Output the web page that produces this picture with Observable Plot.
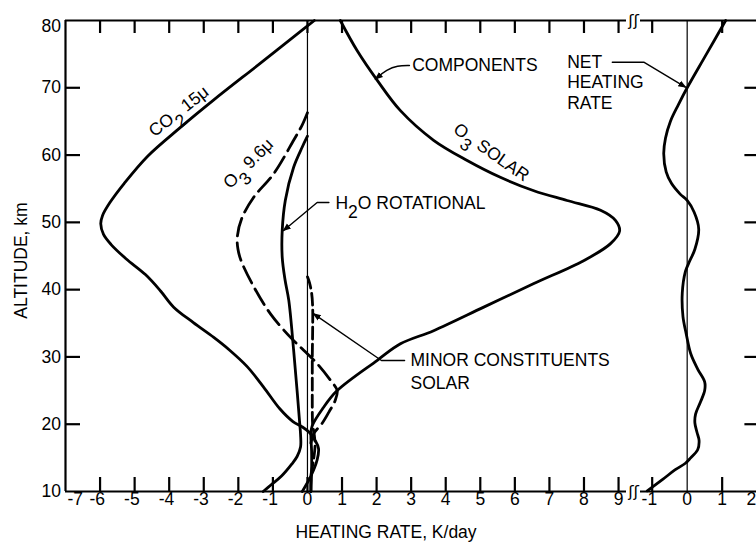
<!DOCTYPE html>
<html>
<head>
<meta charset="utf-8">
<script src="https://cdn.jsdelivr.net/npm/d3@7"></script>
<script src="https://cdn.jsdelivr.net/npm/@observablehq/plot@0.6"></script>
<style>
  html, body { margin: 0; padding: 0; background: #fff; overflow: hidden; }
  #chart { position: relative; width: 756px; height: 543px; overflow: hidden; background: #fff; }
  #chart svg { position: absolute; top: 0; }
</style>
</head>
<body>
<div id="chart"></div>
<script>
// ---------------- data ----------------
const altitudeTicks = [10, 20, 30, 40, 50, 60, 70];
const altitudeTop = [80];
const altitudeInnerTicks = [20, 30, 40, 50, 60, 70];
const leftRateTicksNeg = [-6, -5, -4, -3, -2, -1];
const leftRateTickFirst = [-7];
const leftRateTicksPos = [0, 1, 2, 3, 4, 5, 6, 7, 8, 9];
const rightRateTicksNeg = [-1];
const rightRateTicksPos = [0, 1];
const rightRateTickLast = [2];
const xTitle = "HEATING RATE, K/day";
const yTitle = "ALTITUDE, km";

// curves: [heating rate K/day, altitude km]
const co2_15 = [[0.2,80],[0,79.2],[-1.35,73.7],[-2.71,68.2],[-3.7,64],[-4.63,59.8],[-5.3,55.8],[-5.72,52.9],[-5.93,51],[-5.98,49.8],[-5.9,48.2],[-5.68,46.7],[-5.25,44.6],[-4.68,42.2],[-4.25,39.8],[-3.87,37.4],[-3.3,35.1],[-2.71,32.9],[-2.25,31],[-1.75,28.6],[-1.28,25.6],[-0.8,22.3],[-0.42,20.4],[-0.15,19.6],[0.05,18.8],[0.22,17.6],[0.32,16.4],[0.28,14.7],[0.09,12.2],[-0.15,10]];
const o3_96 = [[0,66.3],[-0.15,64.5],[-0.4,62.2],[-0.98,57.2],[-1.56,53.7],[-1.9,50.6],[-2.03,47.8],[-2.01,46],[-1.92,44.3],[-1.55,40.4],[-1.07,36.4],[-0.49,32.9],[-0.11,31],[0.28,29],[0.67,26.5],[0.86,25],[0.8,23.5],[0.62,21.8],[0.42,20.1],[0.18,18.6],[0.1,17.2]];
const h2oRot = [[0,62.8],[-0.15,61.2],[-0.4,58.2],[-0.64,53.3],[-0.73,48.8],[-0.73,44.8],[-0.65,41.5],[-0.54,38.4],[-0.4,31],[-0.3,25],[-0.23,20.5],[-0.2,18.5],[-0.2,16.6],[-0.3,15.2],[-0.45,14.1],[-0.75,12.3],[-1.05,11],[-1.28,10]];
const o3Solar = [[0.95,80],[1.44,75.5],[2.02,71.1],[2.69,66.6],[3.65,62.2],[4.62,59.2],[5.58,56.7],[6.55,54.7],[7.51,53.25],[8.48,51.8],[8.91,50.3],[9.03,48.7],[8.76,46.8],[7.99,44.3],[6.55,40.9],[5.1,37.4],[3.65,33.9],[2.69,31.95],[2.02,29.5],[0.86,25],[0.45,22.4],[0.14,19.8],[0.1,18.5],[0.12,16],[0.12,13],[0.1,10]];
const minorSolar = [[0,41.9],[0.06,41],[0.12,39.5],[0.15,37.5],[0.15,34],[0.14,30],[0.14,26],[0.14,22],[0.15,20],[0.2,18.3],[0.22,16.8],[0.17,14.5],[0.1,12.3],[0.1,10]];
const netHeating = [[1.1,80],[0.55,75],[0,70],[-0.25,67.5],[-0.48,65],[-0.62,62.5],[-0.67,60.2],[-0.6,57.5],[-0.45,55.8],[-0.2,54.2],[0,53.25],[0.2,51.5],[0.33,49],[0.22,46],[0.05,44],[-0.05,42.7],[-0.14,39.5],[-0.12,36],[-0.03,33.5],[0.1,30.5],[0.3,28.2],[0.5,26.3],[0.5,25],[0.38,23.3],[0.24,21.5],[0.22,20.2],[0.28,18.8],[0.34,17.6],[0.3,16.2],[0.1,15],[-0.05,14.2],[-0.35,13.2],[-0.7,11.8],[-1.14,10.1]];

// annotations (text and anchor points in data units)
const labelCO2 = [{text: "CO₂ 15μ", rate: -3.72, alt: 66.5}];
const labelO396 = [{text: "O₃ 9.6μ", rate: -1.71, alt: 58.75}];
const labelO3Solar = [{text: "O₃ SOLAR", rate: 5.32, alt: 60.4}];
const leftCallouts = [
  {text: "COMPONENTS", rate: 3.03, alt: 73.3},
  {text: "H₂O ROTATIONAL", rate: 0.81, alt: 52.8},
  {text: "MINOR CONSTITUENTS", rate: 2.98, alt: 29.47},
  {text: "SOLAR", rate: 2.98, alt: 26.05}
];
const netCallouts = [
  {text: "NET", rate: -3.43, alt: 73.8},
  {text: "HEATING", rate: -3.43, alt: 70.83},
  {text: "RATE", rate: -3.43, alt: 67.62}
];
const componentsLeader = [[2.95,73.31],[2.6,73.31],[2.3,72.7],[1.97,71.34]];
const h2oLeader = [[0.62,52.95],[0.28,52.95],[-0.69,48.8]];
const minorLeader = [[2.81,29.47],[2.14,29.47],[0.18,36.4]];
const netLeader = [[-2.14,73.8],[-1.24,73.8],[-0.05,70.1]];

// ---------------- layout ----------------
const H = 543, MT = 20, MB = 52, FH = H - MT - MB;
const altDomain = [10, 80];
const leftDomain = [-7, 9.23];
const rightDomain = [-1.334, 2.05];
const LP = {left: 0, width: 633, ml: 65, mr: 7};
const RP = {left: 553, width: 220, ml: 87, mr: 14.6};
const LFW = LP.width - LP.ml - LP.mr;
const RFW = RP.width - RP.ml - RP.mr;
const FONT = "'Liberation Sans', Arial, sans-serif";
const FS = 17.5;
const X = d => d[0], Y = d => d[1];
const curveW = 2.8;
// pixel -> data unit factors for inward tick lengths
const kyAlt = (altDomain[1] - altDomain[0]) / FH;
const kxL = (leftDomain[1] - leftDomain[0]) / LFW;
const kxR = (rightDomain[1] - rightDomain[0]) / RFW;
const TOP_TICK = 13, BOTTOM_TICK = 14, SIDE_TICK = 15;
const TICK_W = 2.2;

const negFmt = d => "-" + Math.abs(d);

function frameTicks(xTicks) {
  return [
    Plot.ruleX(xTicks, {x: d => d, y1: altDomain[1], y2: altDomain[1] - TOP_TICK * kyAlt, strokeWidth: TICK_W}),
    Plot.ruleX(xTicks, {x: d => d, y1: altDomain[0], y2: altDomain[0] + BOTTOM_TICK * kyAlt, strokeWidth: TICK_W})
  ];
}

const leftPlot = Plot.plot({
  width: LP.width, height: H,
  marginLeft: LP.ml, marginRight: LP.mr, marginTop: MT, marginBottom: MB,
  style: {fontFamily: FONT, fontSize: FS + "px", color: "black", background: "transparent", overflow: "visible"},
  x: {domain: leftDomain},
  y: {domain: altDomain},
  marks: [
    Plot.ruleX([leftDomain[0]], {y1: altDomain[0], y2: altDomain[1], strokeWidth: 2.2}),
    Plot.ruleY(altDomain, {x1: leftDomain[0], x2: leftDomain[1], strokeWidth: 2.2}),
    Plot.ruleX([0], {y1: altDomain[0], y2: altDomain[1], strokeWidth: 1.2}),
    Plot.ruleY(altitudeInnerTicks, {y: d => d, x1: leftDomain[0], x2: leftDomain[0] + SIDE_TICK * kxL, strokeWidth: TICK_W}),
    ...frameTicks([...leftRateTicksNeg, ...leftRateTicksPos]),
    Plot.axisY(altitudeTicks, {anchor: "left", tickSize: 0, tickPadding: 4.5, label: null, fontSize: FS}),
    Plot.axisY(altitudeTop, {anchor: "left", tickSize: 0, tickPadding: 4.5, label: null, fontSize: FS, dy: 6}),
    Plot.axisX(leftRateTicksNeg, {anchor: "bottom", tickSize: 0, tickPadding: 1, label: null, textAnchor: "end", dx: 5, tickFormat: negFmt, fontSize: FS}),
    Plot.axisX(leftRateTickFirst, {anchor: "bottom", tickSize: 0, tickPadding: 1, label: null, textAnchor: "end", dx: 17.5, tickFormat: negFmt, fontSize: FS}),
    Plot.axisX(leftRateTicksPos, {anchor: "bottom", tickSize: 0, tickPadding: 1, label: null, fontSize: FS}),
    Plot.text([xTitle], {text: d => d, frameAnchor: "bottom", textAnchor: "middle", lineAnchor: "middle", dx: 40, dy: 41, fontSize: FS}),
    Plot.text([yTitle], {text: d => d, frameAnchor: "left", textAnchor: "middle", lineAnchor: "middle", rotate: -90, dx: -44, dy: 4.5, fontSize: FS}),
    Plot.line(co2_15, {x: X, y: Y, strokeWidth: curveW, curve: "catmull-rom"}),
    Plot.line(h2oRot, {x: X, y: Y, strokeWidth: curveW, curve: "catmull-rom"}),
    Plot.line(o3Solar, {x: X, y: Y, strokeWidth: curveW, curve: "catmull-rom"}),
    Plot.line(o3_96, {x: X, y: Y, strokeWidth: curveW, strokeDasharray: "18,7", curve: "catmull-rom"}),
    Plot.line(minorSolar, {x: X, y: Y, strokeWidth: curveW, strokeDasharray: "12,5", curve: "catmull-rom"}),
    Plot.line(componentsLeader, {x: X, y: Y, strokeWidth: 1.4, curve: "basis", markerEnd: "arrow"}),
    Plot.line(h2oLeader, {x: X, y: Y, strokeWidth: 1.4, markerEnd: "arrow"}),
    Plot.line(minorLeader, {x: X, y: Y, strokeWidth: 1.4, markerEnd: "arrow"}),
    Plot.text(labelCO2, {x: "rate", y: "alt", text: "text", rotate: -38, fontSize: FS}),
    Plot.text(labelO396, {x: "rate", y: "alt", text: "text", rotate: -45, fontSize: FS}),
    Plot.text(labelO3Solar, {x: "rate", y: "alt", text: "text", rotate: 35, fontSize: FS}),
    Plot.text(leftCallouts, {x: "rate", y: "alt", text: "text", textAnchor: "start", fontSize: FS})
  ]
});

const rightPlot = Plot.plot({
  width: RP.width, height: H,
  marginLeft: RP.ml, marginRight: RP.mr, marginTop: MT, marginBottom: MB,
  style: {fontFamily: FONT, fontSize: FS + "px", color: "black", background: "transparent", overflow: "visible"},
  x: {domain: rightDomain},
  y: {domain: altDomain, axis: null},
  marks: [
    Plot.ruleX([rightDomain[1]], {y1: altDomain[0], y2: altDomain[1], strokeWidth: 2.2}),
    Plot.ruleY(altDomain, {x1: rightDomain[0], x2: rightDomain[1], strokeWidth: 2.2}),
    Plot.ruleX([0], {y1: altDomain[0], y2: altDomain[1], strokeWidth: 1.2}),
    Plot.ruleY(altitudeInnerTicks, {y: d => d, x1: rightDomain[1] - 14 * kxR, x2: rightDomain[1], strokeWidth: TICK_W}),
    ...frameTicks([...rightRateTicksNeg, 1, 2]),
    Plot.axisX(rightRateTicksNeg, {anchor: "bottom", tickSize: 0, tickPadding: 1, label: null, textAnchor: "end", dx: 5, tickFormat: negFmt, fontSize: FS}),
    Plot.axisX(rightRateTicksPos, {anchor: "bottom", tickSize: 0, tickPadding: 1, label: null, fontSize: FS}),
    Plot.axisX(rightRateTickLast, {anchor: "bottom", tickSize: 0, tickPadding: 1, label: null, textAnchor: "end", dx: -1, fontSize: FS}),
    Plot.text(["ʃʃ"], {text: d => d, frameAnchor: "top-left", textAnchor: "middle", lineAnchor: "middle", dx: -7, dy: 0, fontFamily: "'DejaVu Sans'", fontSize: 16}),
    Plot.text(["ʃʃ"], {text: d => d, frameAnchor: "bottom-left", textAnchor: "middle", lineAnchor: "middle", dx: -7, dy: 0, fontFamily: "'DejaVu Sans'", fontSize: 16}),
    Plot.line(netHeating, {x: X, y: Y, strokeWidth: curveW, curve: "catmull-rom"}),
    Plot.line(netLeader, {x: X, y: Y, strokeWidth: 1.4, markerEnd: "arrow"}),
    Plot.text(netCallouts, {x: "rate", y: "alt", text: "text", textAnchor: "start", fontSize: FS})
  ]
});

// subscripts: Unicode subscript digits become lowered full-size digits
function applySubscripts(svg) {
  svg.querySelectorAll("text").forEach(t => {
    const s = t.textContent;
    if (!/[\u2080-\u2089]/.test(s)) return;
    t.textContent = "";
    const re = /([\u2080-\u2089]+)|([^\u2080-\u2089]+)/g;
    let m, lowered = false;
    while ((m = re.exec(s))) {
      const ts = document.createElementNS("http://www.w3.org/2000/svg", "tspan");
      if (m[1]) {
        ts.textContent = m[1].replace(/[\u2080-\u2089]/g, c => String(c.charCodeAt(0) - 0x2080));
        ts.setAttribute("dy", "0.5em");
        lowered = true;
      } else {
        ts.textContent = m[2];
        if (lowered) { ts.setAttribute("dy", "-0.5em"); lowered = false; }
      }
      t.appendChild(ts);
    }
  });
}
// filled arrowheads for the leader lines
function fillMarkers(svg) {
  svg.querySelectorAll("marker").forEach(mk => {
    mk.setAttribute("markerUnits", "userSpaceOnUse");
    mk.setAttribute("markerWidth", 14);
    mk.setAttribute("markerHeight", 14);
    mk.setAttribute("fill", "black");
    mk.setAttribute("stroke", "none");
    const p = mk.querySelector("path");
    if (p) p.setAttribute("d", "M-5,-2.3L1,0L-5,2.3Z");
  });
}

[leftPlot, rightPlot].forEach(svg => { applySubscripts(svg); fillMarkers(svg); });
leftPlot.style.left = LP.left + "px";
rightPlot.style.left = RP.left + "px";
document.getElementById("chart").append(leftPlot, rightPlot);
</script>
</body>
</html>
